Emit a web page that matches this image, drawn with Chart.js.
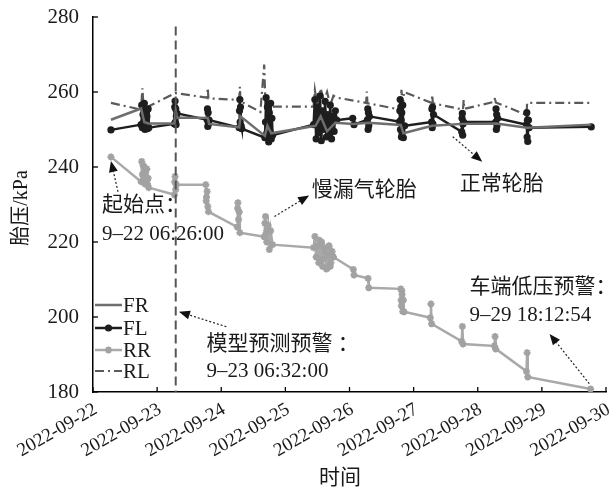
<!DOCTYPE html>
<html>
<head>
<meta charset="utf-8">
<script src="https://cdn.jsdelivr.net/npm/chart.js@4.4.0/dist/chart.umd.min.js"></script>
<style>
  html, body { margin: 0; padding: 0; background: #fff; }
</style>
</head>
<body>
<canvas id="tyreChart" width="612" height="489"></canvas>
<script>
// ========================================
// DATA (x = days since 2022-09-22 00:00, y = kPa)
// ========================================
const dateLabels = ['2022-09-22', '2022-09-23', '2022-09-24', '2022-09-25', '2022-09-26',
                    '2022-09-27', '2022-09-28', '2022-09-29', '2022-09-30'];
const seriesNames = ['FR', 'FL', 'RR', 'RL'];
const yTicks = [180, 200, 220, 240, 260, 280];

const frDays = [0.28, 0.75, 0.80, 0.86, 1.27, 1.29, 1.31, 1.79, 1.81, 2.28, 2.30, 2.68, 2.72, 2.78,
                3.47, 3.55, 3.65, 3.78, 4.06, 4.29, 4.80, 4.84, 5.29, 5.76, 6.29, 6.77, 7.77];
const frKpa  = [252.6, 255.6, 252.0, 251.6, 251.6, 255.0, 253.2, 253.1, 251.5, 250.6, 253.5, 248.3, 251.0, 249.0,
                251.0, 253.5, 249.5, 251.8, 251.5, 251.8, 251.2, 249.0, 251.0, 251.5, 251.6, 250.5, 251.3];

const flDays = [0.28, 0.75, 0.76, 0.77, 0.78, 0.79, 0.80, 0.81, 0.82, 0.83, 0.84, 0.85, 0.86, 0.87,
                1.27, 1.275, 1.28, 1.285, 1.29, 1.295, 1.30, 1.31,
                1.78, 1.785, 1.79, 1.795, 1.80, 1.81, 2.28, 2.285, 2.29, 2.295, 2.30, 2.31, 2.32,
                2.68, 2.69, 2.70, 2.71, 2.72, 2.73, 2.74, 2.75, 2.76, 2.77, 2.78, 2.79, 2.80,
                3.44, 3.46, 3.48, 3.50, 3.52, 3.54, 3.56, 3.58, 3.60, 3.62, 3.64, 3.66, 3.68, 3.70,
                3.72, 3.74, 3.76, 3.78, 3.80,
                4.05, 4.07, 4.28, 4.285, 4.29, 4.295, 4.30, 4.31,
                4.78, 4.785, 4.79, 4.795, 4.80, 4.805, 4.81, 4.815, 4.82, 4.83, 4.84, 4.86,
                5.28, 5.285, 5.29, 5.295, 5.30, 5.31, 5.75, 5.755, 5.76, 5.765, 5.77, 5.78,
                6.28, 6.285, 6.29, 6.295, 6.30, 6.31, 6.76, 6.765, 6.77, 6.775, 6.78, 6.79, 6.80, 7.77];
const flKpa  = [249.9, 251.3, 256.5, 250.5, 254.0, 252.0, 257.0, 250.0, 255.0, 251.5, 253.5, 250.2, 255.5, 250.5,
                251.5, 256.0, 257.6, 252.0, 255.5, 251.3, 253.5, 254.3,
                252.6, 255.5, 250.8, 254.5, 251.5, 252.5, 250.5, 255.0, 258.0, 252.0, 256.0, 251.0, 250.2,
                247.8, 252.0, 258.5, 249.0, 256.0, 251.0, 246.7, 254.5, 249.5, 257.0, 247.5, 253.0, 248.5,
                251.3, 258.0, 247.5, 256.0, 249.0, 259.0, 247.0, 255.0, 250.0, 257.5, 248.0, 254.0, 249.0, 256.5,
                247.5, 253.5, 249.5, 255.0, 252.5,
                253.0, 251.3, 252.6, 255.5, 250.0, 254.5, 251.0, 253.5,
                252.1, 255.0, 258.0, 250.0, 256.0, 252.5, 248.0, 254.5, 249.0, 256.5, 247.8, 251.0,
                252.0, 255.5, 250.5, 256.0, 251.5, 254.0, 249.4, 253.0, 254.3, 248.5, 251.5, 252.0,
                252.0, 255.5, 250.0, 254.0, 251.0, 253.0, 251.3, 254.5, 248.0, 252.5, 246.8, 252.5, 250.5, 250.7];

const rrDays = [0.28, 0.75, 0.76, 0.77, 0.78, 0.79, 0.80, 0.81, 0.82, 0.83, 0.84, 0.85, 0.86, 0.87,
                1.27, 1.275, 1.28, 1.29, 1.30,
                1.76, 1.765, 1.77, 1.78, 1.79, 1.80, 2.25, 2.255, 2.26, 2.27, 2.28, 2.29,
                2.67, 2.68, 2.69, 2.70, 2.71, 2.72, 2.73, 2.75, 2.77, 2.80,
                3.44, 3.46, 3.48, 3.50, 3.52, 3.53, 3.55, 3.56, 3.58, 3.59, 3.61, 3.62, 3.64, 3.65,
                3.67, 3.68, 3.70, 3.71, 3.73, 3.75,
                4.06, 4.07, 4.29, 4.30, 4.80, 4.805, 4.81, 4.815, 4.82, 4.83, 4.84, 4.85,
                5.26, 5.27, 5.28, 5.75, 5.76, 5.77, 6.26, 6.27, 6.28, 6.76, 6.77, 6.78, 7.76];
const rrKpa  = [242.7, 236.1, 241.5, 238.0, 240.5, 236.5, 240.0, 235.5, 238.5, 237.0, 239.5, 235.5, 237.0, 234.5,
                232.6, 236.0, 237.5, 234.0, 235.3,
                235.3, 231.0, 232.0, 233.5, 229.5, 228.1, 224.0, 229.0, 230.5, 226.0, 228.0, 222.5,
                221.4, 225.0, 226.8, 222.5, 220.0, 223.5, 224.5, 218.0, 223.0, 219.3,
                218.5, 221.5, 216.0, 219.0, 214.5, 220.5, 215.0, 220.0, 213.5, 215.5, 218.5, 217.5, 212.8, 213.0,
                216.5, 219.0, 213.5, 214.5, 217.5, 216.0,
                212.7, 211.2, 210.3, 207.8, 207.5, 204.5, 203.0, 207.0, 206.0, 201.5, 204.5, 201.4,
                199.8, 203.5, 198.2, 193.5, 197.5, 192.8, 192.3, 194.8, 191.5, 185.5, 190.5, 184.0, 180.8];

const rlDays = [0.28, 0.75, 0.77, 0.79, 1.28, 1.78, 1.79, 1.80, 2.28, 2.29, 2.30,
                2.61, 2.67, 2.69, 2.75, 2.80, 3.44, 3.46, 3.50, 3.55, 3.60, 3.65, 3.70, 3.75, 3.80,
                4.26, 4.27, 4.28, 4.80, 4.81, 4.83, 4.85, 5.28, 5.29, 5.30,
                5.77, 5.78, 5.79, 6.26, 6.27, 6.28, 6.76, 6.77, 7.78];
const rlKpa  = [257.1, 255.3, 261.0, 255.5, 259.7, 258.5, 261.1, 258.3, 257.9, 261.4, 257.5,
                254.7, 267.3, 256.0, 257.0, 256.1, 256.1, 260.5, 256.0, 261.0, 257.5, 260.0, 256.5, 259.0, 258.5,
                257.1, 260.1, 257.0, 255.3, 260.6, 256.0, 260.0, 257.1, 259.3, 257.0,
                255.3, 257.9, 255.5, 257.4, 258.7, 257.2, 253.9, 257.1, 257.1];

// model warning time (vertical dashed line)
const warnDay = 1.29;

// annotation texts, anchored in data units
const notes = [
  { lines: ['起始点：', '9–22 06:26:00'], x: 0.14, y: [229.7, 221.9], from: [0.39, 233.4], to: [0.28, 241.6] },
  { lines: ['慢漏气轮胎'], x: 3.41, y: [233.8], from: [2.83, 226.8], to: [3.37, 232.4] },
  { lines: ['正常轮胎'], x: 5.72, y: [235.3], from: [5.61, 248.1], to: [6.07, 241.4] },
  { lines: ['模型预测预警 ：', '9–23 06:32:00'], x: 1.77, y: [192.6, 185.4], from: [2.08, 197.4], to: [1.34, 201.4] },
  { lines: ['车端低压预警：', '9–29 18:12:54'], x: 5.87, y: [207.8, 200.3], from: [7.74, 182.2], to: [7.12, 195.5] }
];

const FONT = '"Liberation Serif", "Noto Sans CJK SC", serif';

function toPoints(xs, ys) {
  return xs.map((x, i) => ({ x: x, y: ys[i] }));
}

// ========================================
// DRAWING HELPERS
// ========================================
function drawArrow(ctx, x1, y1, x2, y2) {
  const ang = Math.atan2(y2 - y1, x2 - x1);
  const head = 11;
  ctx.save();
  ctx.strokeStyle = '#222';
  ctx.lineWidth = 1.2;
  ctx.setLineDash([2, 2]);
  ctx.beginPath();
  ctx.moveTo(x1, y1);
  ctx.lineTo(x2 - Math.cos(ang) * head, y2 - Math.sin(ang) * head);
  ctx.stroke();
  ctx.setLineDash([]);
  ctx.fillStyle = '#111';
  ctx.beginPath();
  ctx.moveTo(x2, y2);
  ctx.lineTo(x2 - Math.cos(ang) * head + Math.sin(ang) * 4.5, y2 - Math.sin(ang) * head - Math.cos(ang) * 4.5);
  ctx.lineTo(x2 - Math.cos(ang) * head - Math.sin(ang) * 4.5, y2 - Math.sin(ang) * head + Math.cos(ang) * 4.5);
  ctx.closePath();
  ctx.fill();
  ctx.restore();
}

const decorPlugin = {
  id: 'decor',
  afterDraw(chart) {
    const ctx = chart.ctx;
    const xs = chart.scales.x;
    const ys = chart.scales.y;
    const area = chart.chartArea;
    ctx.save();

    // inward tick marks
    ctx.strokeStyle = '#000';
    ctx.lineWidth = 1.3;
    xs.ticks.forEach(t => {
      const px = xs.getPixelForValue(t.value);
      ctx.beginPath();
      ctx.moveTo(px, area.bottom);
      ctx.lineTo(px, area.bottom - 5);
      ctx.stroke();
    });
    ys.ticks.forEach(t => {
      const py = ys.getPixelForValue(t.value);
      ctx.beginPath();
      ctx.moveTo(area.left, py);
      ctx.lineTo(area.left + 5, py);
      ctx.stroke();
    });

    // rotated date labels, text end sits at the tick
    ctx.fillStyle = '#1a1a1a';
    ctx.font = '19px ' + FONT;
    ctx.textAlign = 'right';
    ctx.textBaseline = 'top';
    xs.ticks.forEach(t => {
      const px = xs.getPixelForValue(t.value);
      ctx.save();
      ctx.translate(px - 2, area.bottom + 8);
      ctx.rotate(-Math.PI / 6);
      ctx.fillText(dateLabels[t.value], 0, 0);
      ctx.restore();
    });

    // model warning line
    const wx = xs.getPixelForValue(warnDay);
    ctx.strokeStyle = '#555';
    ctx.lineWidth = 2;
    ctx.setLineDash([9, 5]);
    ctx.beginPath();
    ctx.moveTo(wx, ys.getPixelForValue(277.5));
    ctx.lineTo(wx, area.bottom);
    ctx.stroke();
    ctx.setLineDash([]);

    // annotations
    ctx.fillStyle = '#1a1a1a';
    ctx.font = '21px ' + FONT;
    ctx.textAlign = 'left';
    ctx.textBaseline = 'middle';
    notes.forEach(n => {
      n.lines.forEach((txt, i) => {
        ctx.fillText(txt, xs.getPixelForValue(n.x), ys.getPixelForValue(n.y[i]));
      });
      drawArrow(ctx, xs.getPixelForValue(n.from[0]), ys.getPixelForValue(n.from[1]),
                xs.getPixelForValue(n.to[0]), ys.getPixelForValue(n.to[1]));
    });

    // legend (inside plot, bottom-left)
    const rowY = [305, 328, 350, 371];
    chart.data.datasets.forEach((ds, i) => {
      const y = rowY[i];
      const x0 = area.left + 2, x1 = area.left + 29;
      ctx.save();
      ctx.strokeStyle = ds.borderColor;
      ctx.lineWidth = ds.borderWidth;
      ctx.setLineDash(ds.borderDash || []);
      ctx.beginPath();
      ctx.moveTo(x0, y);
      ctx.lineTo(x1, y);
      ctx.stroke();
      ctx.setLineDash([]);
      if (ds.pointRadius > 0) {
        ctx.fillStyle = ds.pointBackgroundColor;
        ctx.strokeStyle = ds.pointBorderColor;
        ctx.lineWidth = ds.pointBorderWidth;
        Chart.helpers.drawPoint(ctx, {
          pointStyle: ds.pointStyle, radius: ds.pointRadius, borderWidth: ds.pointBorderWidth, rotation: 0
        }, (x0 + x1) / 2, y);
      }
      ctx.restore();
      ctx.fillStyle = '#1a1a1a';
      ctx.font = '21px ' + FONT;
      ctx.textAlign = 'left';
      ctx.textBaseline = 'middle';
      ctx.fillText(ds.label, x1 + 1, y + 1);
    });

    // axis titles
    ctx.fillStyle = '#1a1a1a';
    ctx.font = '21px ' + FONT;
    ctx.textAlign = 'center';
    ctx.textBaseline = 'middle';
    ctx.fillText('时间', 340, 478);
    ctx.font = '20px ' + FONT;
    ctx.save();
    ctx.translate(22, 208);
    ctx.rotate(-Math.PI / 2);
    ctx.fillText('胎压/kPa', 0, 0);
    ctx.restore();

    ctx.restore();
  }
};

// ========================================
// CHART
// ========================================
new Chart(document.getElementById('tyreChart'), {
  type: 'line',
  data: {
    datasets: [
      {
        label: seriesNames[0], data: toPoints(frDays, frKpa),
        borderColor: '#6e6e6e', borderWidth: 2.5, pointRadius: 0, tension: 0
      },
      {
        label: seriesNames[1], data: toPoints(flDays, flKpa),
        borderColor: '#1e1e1e', borderWidth: 2.5, pointStyle: 'circle', pointRadius: 3.6,
        pointBackgroundColor: '#1e1e1e', pointBorderColor: '#1e1e1e', pointBorderWidth: 0, tension: 0
      },
      {
        label: seriesNames[2], data: toPoints(rrDays, rrKpa),
        borderColor: '#a9a9a9', borderWidth: 2.5, pointStyle: 'star', pointRadius: 3.5,
        pointBackgroundColor: '#a2a2a2', pointBorderColor: '#a2a2a2', pointBorderWidth: 2, tension: 0
      },
      {
        label: seriesNames[3], data: toPoints(rlDays, rlKpa),
        borderColor: '#5a5a5a', borderWidth: 2.2, borderDash: [9, 4, 2, 4], pointRadius: 0, tension: 0
      }
    ]
  },
  options: {
    responsive: false,
    animation: false,
    devicePixelRatio: 1,
    layout: { padding: { top: 17, right: 3, bottom: 0, left: 0 } },
    plugins: {
      legend: { display: false },
      tooltip: { enabled: false }
    },
    scales: {
      x: {
        type: 'linear', min: 0, max: 8,
        grid: { display: false, drawTicks: false },
        border: { color: '#000', width: 1.5 },
        ticks: { stepSize: 1, autoSkip: false, display: false },
        afterFit: s => { s.height = 97; s.paddingLeft = 0; s.paddingRight = 0; }
      },
      y: {
        min: 180, max: 280,
        grid: { display: false, drawTicks: false },
        border: { color: '#000', width: 1.5 },
        afterBuildTicks: s => { s.ticks = yTicks.map(v => ({ value: v })); },
        ticks: { padding: 14, color: '#1a1a1a', font: { family: FONT, size: 21 } },
        afterFit: s => { s.width = 93; s.paddingTop = 0; s.paddingBottom = 0; }
      }
    }
  },
  plugins: [decorPlugin]
});
</script>
</body>
</html>
